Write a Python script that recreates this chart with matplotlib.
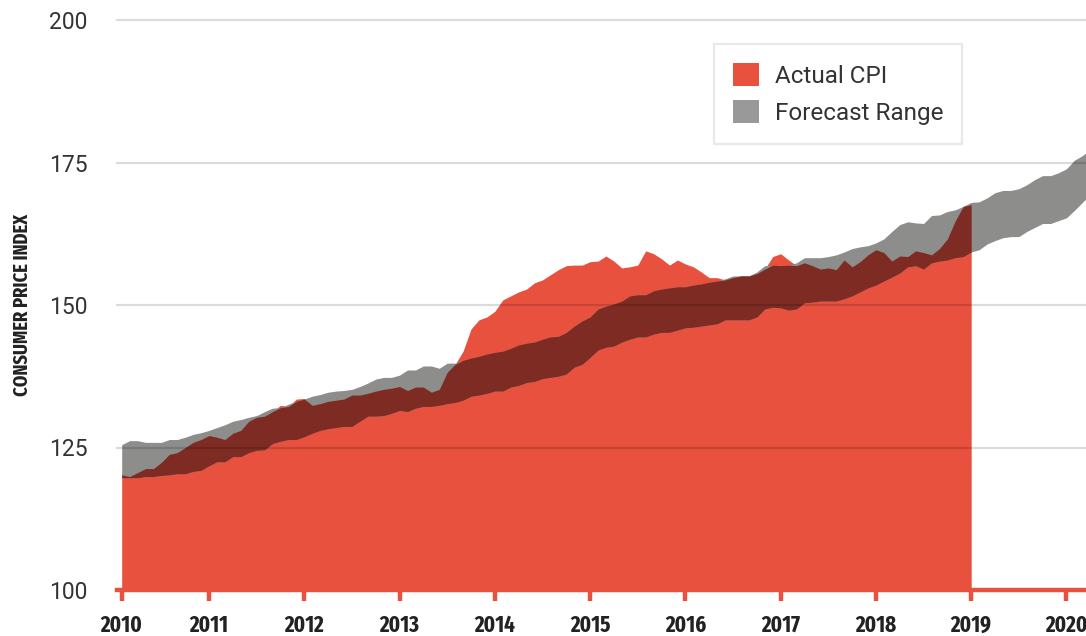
import os
import numpy as np
import matplotlib
matplotlib.use("Agg")
import matplotlib.pyplot as plt
from matplotlib.patches import Patch
from matplotlib import font_manager as fm

# ---------------- data (monthly, starting Feb 2010) ----------------
actual_cpi = [120.2, 119.9, 120.6, 121.3, 121.3, 122.4, 123.8, 124.1, 125.0, 125.9,
              126.4, 127.1, 126.8, 126.4, 127.5, 128.0, 129.6, 130.3, 130.5, 131.3,
              132.4, 132.2, 133.5, 133.6, 132.4, 132.7, 133.1, 133.3, 133.5, 134.2,
              134.2, 134.5, 134.9, 135.2, 135.4, 135.7, 135.0, 135.6, 135.6, 134.7,
              135.2, 138.2, 139.6, 141.9, 145.8, 147.4, 147.9, 148.9, 150.9, 151.6,
              152.3, 152.8, 153.9, 154.4, 155.3, 156.2, 156.9, 157.0, 157.0, 157.6,
              157.7, 158.6, 157.7, 156.5, 156.7, 157.0, 159.5, 159.0, 158.1, 157.0,
              157.9, 157.2, 156.7, 155.8, 154.8, 154.8, 154.4, 154.8, 155.1, 155.1,
              155.5, 156.3, 158.5, 159.0, 157.9, 156.9, 157.4, 156.9, 156.3, 156.5,
              156.2, 157.9, 156.7, 157.6, 158.8, 159.7, 159.2, 157.7, 158.6, 158.5,
              159.5, 159.2, 158.8, 159.9, 161.6, 164.8, 167.3, 167.6]

forecast_upper = [125.5, 126.2, 126.2, 125.9, 125.9, 125.9, 126.4, 126.4, 126.8, 127.3,
                  127.6, 128.0, 128.5, 129.0, 129.6, 129.9, 130.3, 130.6, 131.3, 131.9,
                  132.0, 132.6, 133.1, 133.5, 134.0, 134.3, 134.7, 134.9, 135.0, 135.2,
                  135.7, 136.3, 137.0, 137.3, 137.3, 137.7, 138.6, 138.6, 139.3, 139.3,
                  138.9, 139.8, 139.8, 140.3, 140.7, 141.0, 141.4, 141.7, 141.9, 142.4,
                  143.0, 143.3, 143.5, 144.0, 144.4, 144.5, 145.2, 146.3, 147.2, 147.9,
                  149.3, 149.8, 150.2, 150.7, 151.6, 151.8, 151.8, 152.5, 152.8, 153.0,
                  153.2, 153.2, 153.5, 153.7, 154.0, 154.2, 154.6, 155.1, 155.1, 155.1,
                  155.8, 156.9, 157.0, 156.9, 157.0, 157.4, 158.3, 158.3, 158.3, 158.5,
                  158.8, 159.3, 159.9, 160.2, 160.4, 160.9, 161.6, 162.9, 164.1, 164.6,
                  164.4, 164.3, 165.7, 165.8, 166.4, 166.7, 167.3, 168.0, 168.1, 168.8,
                  169.7, 170.1, 170.1, 170.4, 171.1, 172.0, 172.7, 172.7, 173.2, 173.9,
                  175.4, 176.2, 177.3]

forecast_lower = [119.7, 119.7, 119.7, 119.9, 119.9, 120.1, 120.2, 120.4, 120.4, 120.8,
                  121.0, 121.8, 122.5, 122.5, 123.4, 123.4, 124.1, 124.5, 124.6, 125.7,
                  126.1, 126.4, 126.4, 126.9, 127.5, 128.0, 128.3, 128.5, 128.7, 128.7,
                  129.6, 130.5, 130.5, 130.6, 131.0, 131.5, 131.3, 131.9, 132.2, 132.2,
                  132.4, 132.7, 132.9, 133.3, 134.0, 134.2, 134.5, 134.9, 134.9, 135.6,
                  135.9, 136.4, 136.6, 137.1, 137.3, 137.5, 137.9, 139.1, 139.6, 140.8,
                  142.1, 142.6, 142.8, 143.5, 144.0, 144.4, 144.4, 144.9, 145.2, 145.2,
                  145.6, 146.0, 146.1, 146.3, 146.5, 146.7, 147.4, 147.4, 147.4, 147.4,
                  147.9, 149.3, 149.6, 149.5, 149.1, 149.3, 150.4, 150.5, 150.7, 150.7,
                  150.7, 151.1, 151.6, 152.3, 153.0, 153.5, 154.2, 154.9, 155.6, 156.7,
                  156.9, 156.3, 157.4, 157.7, 157.9, 158.3, 158.5, 159.3, 159.7, 160.7,
                  161.3, 161.8, 162.0, 162.0, 162.9, 163.6, 164.3, 164.3, 164.8, 165.3,
                  166.6, 168.0, 169.4]

year_labels = ["2010", "2011", "2012", "2013", "2014", "2015", "2016",
               "2017", "2018", "2019", "2020"]
y_ticks = [100, 125, 150, 175, 200]

# ---------------- style ----------------
RED = "#e9513f"
GRAY = "#8d8d8b"
DARK = "#7e2b23"
SANS = ["Roboto", "DejaVu Sans"]


def pick_condensed_bold():
    best, best_score = None, -99
    for f in fm.fontManager.ttflist:
        fn = os.path.basename(f.fname).lower()
        if not any(k in fn for k in ("condensed", "narrow")):
            continue
        if "italic" in fn or "oblique" in fn:
            continue
        score = 0
        if "extracondensed" in fn:
            score += 4
        elif "semicondensed" in fn:
            score += 1
        else:
            score += 2
        if "bold" in fn:
            if any(k in fn for k in ("semibold", "extrabold", "ultrabold", "demibold")):
                score += 1
            else:
                score += 3
        elif "black" in fn:
            score += 1
        if fn.endswith(".otf"):
            score -= 0.5
        if score > best_score:
            best, best_score = f.fname, score
    if best is None:
        return fm.FontProperties(family="DejaVu Sans", weight="bold")
    return fm.FontProperties(fname=best)


COND = pick_condensed_bold()

start_year = 2010
first_month = 2  # February 2010
n_fc = len(forecast_upper)
x_fc = start_year + (np.arange(n_fc) + first_month - 1) / 12.0
x_act = x_fc[:len(actual_cpi)]

act = np.array(actual_cpi)
up = np.array(forecast_upper)
lo = np.array(forecast_lower)

W, H = 1086, 636
fig = plt.figure(figsize=(W / 100, H / 100), dpi=100)
ax = fig.add_axes([117 / W, 46 / H, (W - 117) / W, 570 / H])

# actual CPI area
ax.fill_between(x_act, 100, act, color=RED, linewidth=0, zorder=2)
# forecast band
ax.fill_between(x_fc, lo, up, color=GRAY, linewidth=0, zorder=3)
# overlap (forecast over actual)
lo_a = lo[:len(act)]
up_a = up[:len(act)]
ax.fill_between(x_act, lo_a, np.minimum(up_a, act), where=act > lo_a,
                interpolate=True, color=DARK, linewidth=0, zorder=4)

ax.set_ylim(100, 200)
ax.set_xlim(start_year + 0.41 / 12, start_year + 122.46 / 12)

# grid lines on top
for yv in y_ticks[1:]:
    ax.axhline(yv, color="black", alpha=0.14, linewidth=1.6, zorder=6, clip_on=False)

ax.set_yticks(y_ticks)
ax.set_yticklabels([str(v) for v in y_ticks], fontfamily=SANS, fontsize=16.5,
                   color="#333333")
ax.tick_params(axis="y", length=0, pad=21)

xt = [x_fc[0]] + [float(y) for y in range(2011, 2021)]
ax.set_xticks(xt)
ax.set_xticklabels(year_labels, fontproperties=COND, color="#222222")
ax.tick_params(axis="x", length=8, width=3.2, color=RED, pad=9)

for s in ["left", "right", "top"]:
    ax.spines[s].set_visible(False)
ax.spines["bottom"].set_color(RED)
ax.spines["bottom"].set_linewidth(3.2)
ax.spines["bottom"].set_zorder(7)

ylab = fig.text(22 / W, 1 - 305 / H, "CONSUMER PRICE INDEX", rotation=90, ha="center",
                va="center", fontproperties=COND, color="#222222")

handles = [Patch(facecolor=RED, edgecolor="none", label="Actual CPI"),
           Patch(facecolor="#999999", edgecolor="none", label="Forecast Range")]
leg = fig.legend(handles=handles, loc="upper left",
                 bbox_to_anchor=(714 / W, 1 - 44 / H), bbox_transform=fig.transFigure,
                 frameon=True, fancybox=False, borderaxespad=0, borderpad=0.8,
                 handlelength=1.07, handleheight=1.07, handletextpad=0.62,
                 labelspacing=0.5, prop={"family": SANS, "size": 17.5})
leg.get_frame().set_edgecolor("#e3e3e3")
leg.get_frame().set_linewidth(1.6)
for t in leg.get_texts():
    t.set_color("#333333")

# size the condensed texts to the reference widths
fig.canvas.draw()
r = fig.canvas.get_renderer()
labs = ax.get_xticklabels()
for lab in labs:
    lab.set_fontsize(16)
ylab.set_fontsize(14)
fig.canvas.draw()
w_year = labs[1].get_window_extent(r).width
s_year = min(18.0, 16 * 39.0 / max(w_year, 1))
for lab in labs:
    lab.set_fontsize(s_year)
h_lab = ylab.get_window_extent(r).height
ylab.set_fontsize(min(16.0, 14 * 182.0 / max(h_lab, 1)))

fig.savefig("out.png", dpi=100)
